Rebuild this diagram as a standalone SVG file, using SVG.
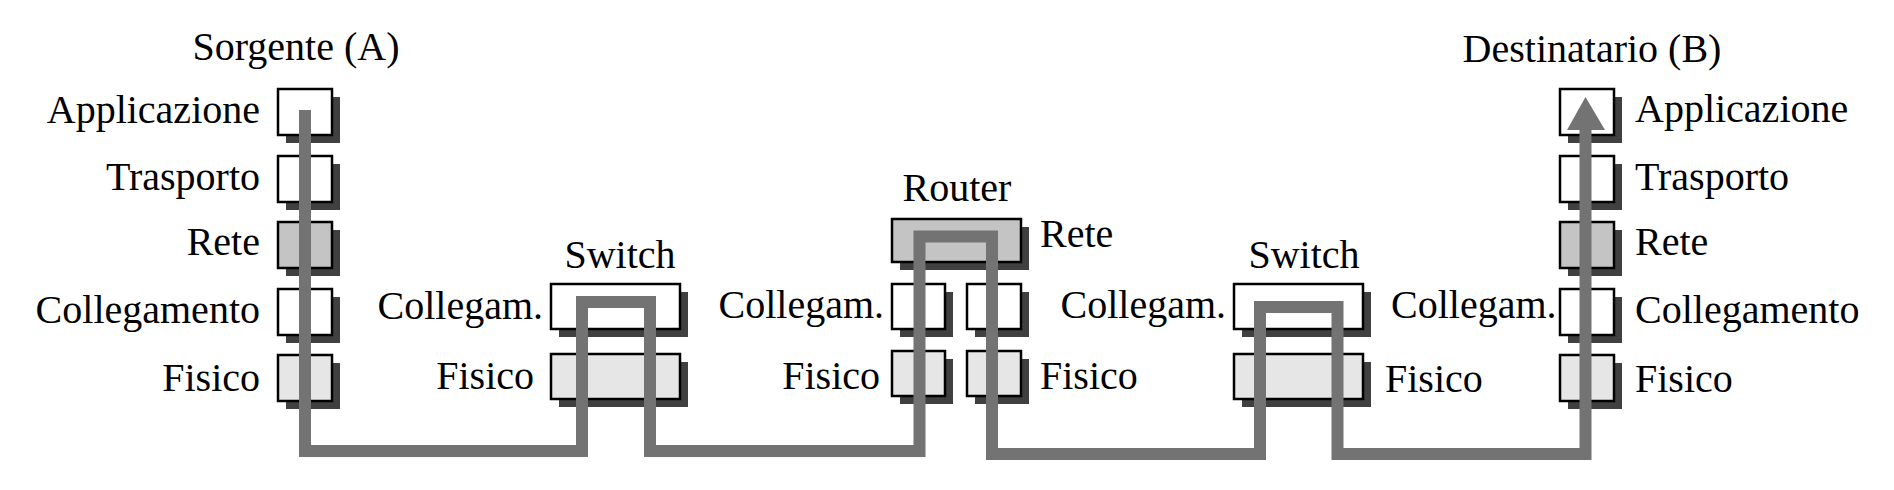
<svg xmlns="http://www.w3.org/2000/svg" width="1894" height="490" viewBox="0 0 1894 490">
<style>
text{font-family:"Liberation Serif","Times New Roman",serif;font-size:40px;fill:#000}
.e{text-anchor:end}
.m{text-anchor:middle}
.sh{fill:#404040}
.b{stroke:#000;stroke-width:2.5}
.w{fill:#fff}
.n{fill:#c4c4c4}
.f{fill:#e6e6e6}
.ln{fill:none;stroke:#737373;stroke-width:12;stroke-linejoin:miter}
</style>
<rect width="1894" height="490" fill="#fff"/>
<g id="source">
<text class="m" x="296" y="60">Sorgente (A)</text>
<rect class="sh" x="286" y="97" width="54" height="46"/><rect class="b w" x="278" y="89" width="54" height="46"/>
<rect class="sh" x="286" y="164" width="54" height="46"/><rect class="b w" x="278" y="156" width="54" height="46"/>
<rect class="sh" x="286" y="230" width="54" height="46"/><rect class="b n" x="278" y="222" width="54" height="46"/>
<rect class="sh" x="286" y="297" width="54" height="46"/><rect class="b w" x="278" y="289" width="54" height="46"/>
<rect class="sh" x="286" y="363" width="54" height="46"/><rect class="b f" x="278" y="355" width="54" height="46"/>
<text class="e" x="260" y="123">Applicazione</text>
<text class="e" x="260" y="190">Trasporto</text>
<text class="e" x="260" y="255">Rete</text>
<text class="e" x="260" y="323">Collegamento</text>
<text class="e" x="260" y="391">Fisico</text>
</g>
<g id="switch1">
<text class="m" x="620" y="268">Switch</text>
<rect class="sh" x="559" y="292" width="129" height="45"/><rect class="b w" x="551" y="284" width="129" height="45"/>
<rect class="sh" x="559" y="362" width="129" height="45"/><rect class="b f" x="551" y="354" width="129" height="45"/>
<text class="e" x="543" y="319">Collegam.</text>
<text class="e" x="534" y="389">Fisico</text>
</g>
<g id="router">
<text class="m" x="957" y="201">Router</text>
<rect class="sh" x="900" y="227" width="129" height="43"/><rect class="b n" x="892" y="219" width="129" height="43"/>
<rect class="sh" x="900" y="292" width="53" height="45"/><rect class="b w" x="892" y="284" width="53" height="45"/>
<rect class="sh" x="975" y="292" width="54" height="45"/><rect class="b w" x="967" y="284" width="54" height="45"/>
<rect class="sh" x="900" y="359" width="53" height="45"/><rect class="b f" x="892" y="351" width="53" height="45"/>
<rect class="sh" x="975" y="359" width="54" height="45"/><rect class="b f" x="967" y="351" width="54" height="45"/>
<text x="1040" y="247">Rete</text>
<text class="e" x="884" y="318">Collegam.</text>
<text class="e" x="880" y="389">Fisico</text>
<text x="1040" y="389">Fisico</text>
</g>
<g id="switch2">
<text class="m" x="1304" y="268">Switch</text>
<rect class="sh" x="1242" y="292" width="129" height="45"/><rect class="b w" x="1234" y="284" width="129" height="45"/>
<rect class="sh" x="1242" y="362" width="129" height="45"/><rect class="b f" x="1234" y="354" width="129" height="45"/>
<text class="e" x="1226" y="318">Collegam.</text>
<text x="1391" y="318">Collegam.</text>
<text x="1385" y="392">Fisico</text>
</g>
<g id="destination">
<text class="m" x="1592" y="62">Destinatario (B)</text>
<rect class="sh" x="1568" y="97" width="54" height="46"/><rect class="b w" x="1560" y="89" width="54" height="46"/>
<rect class="sh" x="1568" y="164" width="54" height="46"/><rect class="b w" x="1560" y="156" width="54" height="46"/>
<rect class="sh" x="1568" y="230" width="54" height="46"/><rect class="b n" x="1560" y="222" width="54" height="46"/>
<rect class="sh" x="1568" y="297" width="54" height="46"/><rect class="b w" x="1560" y="289" width="54" height="46"/>
<rect class="sh" x="1568" y="363" width="54" height="46"/><rect class="b f" x="1560" y="355" width="54" height="46"/>
<text x="1635" y="122">Applicazione</text>
<text x="1635" y="190">Trasporto</text>
<text x="1635" y="255">Rete</text>
<text x="1635" y="323">Collegamento</text>
<text x="1635" y="392">Fisico</text>
</g>
<g id="connectors">
<path class="ln" d="M305,110 V451 H582 V302 H650 V451 H919.5 V236.5 H992 V454 H1260 V307 H1337.5 V454 H1585.5 V128"/>
<polygon points="1567,130 1585.5,97 1605,130" fill="#737373"/>
</g>
</svg>
